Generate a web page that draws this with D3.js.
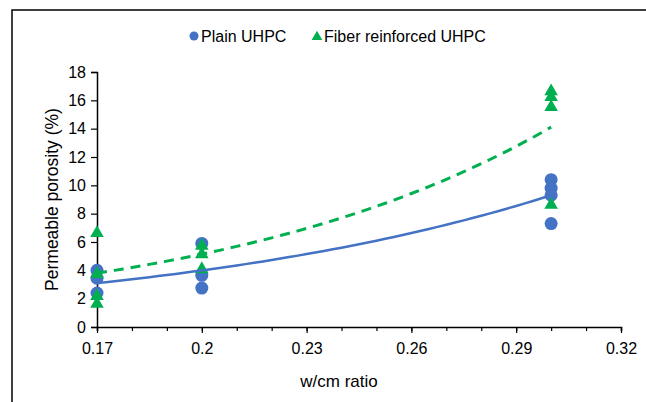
<!DOCTYPE html>
<html>
<head>
<meta charset="utf-8">
<script src="https://cdn.jsdelivr.net/npm/d3@7"></script>
<style>
  body { margin: 0; background: #fff; }
  svg { font-family: "Liberation Sans", Arial, sans-serif; }
</style>
</head>
<body>
<div id="chart"></div>
<script>
// --- DATA ---
const plainX     = [0.17, 0.17, 0.17, 0.2, 0.2, 0.2, 0.3, 0.3, 0.3, 0.3];
const plainY     = [4.0, 3.45, 2.4, 5.9, 3.65, 2.75, 10.4, 9.8, 9.3, 7.3];
const fiberX     = [0.17, 0.17, 0.17, 0.17, 0.2, 0.2, 0.2, 0.3, 0.3, 0.3, 0.3];
const fiberY     = [6.7, 3.8, 2.25, 1.7, 5.8, 5.2, 4.15, 16.7, 16.3, 15.6, 8.7];
// exponential trendlines y = a * exp(b x), as shown in the picture
const plainTrend = [0.737, 8.45];
const fiberTrend = [0.6837, 10.09];
const xTicks     = [0.17, 0.2, 0.23, 0.26, 0.29, 0.32];
const yTicks     = [0, 2, 4, 6, 8, 10, 12, 14, 16, 18];

const W = 646, H = 402;
const blue = '#4472C4', green = '#00B050';
const font = '"Liberation Sans", Arial, sans-serif';

const svg = d3.select('#chart').append('svg')
  .attr('width', W).attr('height', H);

// outer chart frame (runs off the right/bottom edge)
svg.append('rect')
  .attr('x', 12).attr('y', 10)
  .attr('width', 700).attr('height', 500)
  .attr('fill', 'none').attr('stroke', '#000').attr('stroke-width', 1.5);

const x = d3.scaleLinear().domain([0.17, 0.32]).range([97, 621]);
const y = d3.scaleLinear().domain([0, 18]).range([327, 72]);

// --- AXES ---
const gx = svg.append('g').attr('transform', `translate(0,${y(0)})`)
  .call(d3.axisBottom(x).tickValues(d3.range(0.17, 0.3201, 0.01))
    .tickSize(4).tickFormat(''));
gx.select('.domain').attr('stroke-width', 1.5);
gx.selectAll('line').attr('stroke-width', 1.2);

const gx2 = svg.append('g').attr('transform', `translate(0,${y(0)})`)
  .call(d3.axisBottom(x).tickValues(xTicks).tickSize(6).tickPadding(10)
    .tickFormat(d => String(+d.toFixed(2))));
gx2.select('.domain').remove();
gx2.selectAll('line').attr('stroke-width', 1.2);
gx2.selectAll('text').attr('font-size', 16).attr('fill', '#000')
  .attr('font-family', font);

const gy = svg.append('g').attr('transform', `translate(${x(0.17)},0)`)
  .call(d3.axisLeft(y).tickValues(yTicks).tickSize(6).tickPadding(5));
gy.select('.domain').attr('stroke-width', 1.5);
gy.selectAll('line').attr('stroke-width', 1.2);
gy.selectAll('text').attr('font-size', 16).attr('fill', '#000')
  .attr('font-family', font);

// axis titles
svg.append('text')
  .attr('x', 339).attr('y', 387)
  .attr('text-anchor', 'middle').attr('font-size', 17)
  .text('w/cm ratio');

svg.append('text')
  .attr('transform', `translate(58,${y(9)}) rotate(-90)`)
  .attr('text-anchor', 'middle').attr('font-size', 17.5)
  .text('Permeable porosity (%)');

// --- POINTS ---
const plain = plainX.map((d, i) => ({ x: d, y: plainY[i] }));
const fiber = fiberX.map((d, i) => ({ x: d, y: fiberY[i] }));

svg.append('g').selectAll('circle')
  .data(plain)
  .enter().append('circle')
    .attr('cx', d => x(d.x))
    .attr('cy', d => y(d.y))
    .attr('r', 6.5)
    .attr('fill', blue);

const tri = d3.symbol().type(d3.symbolTriangle).size(80);
svg.append('g').selectAll('path')
  .data(fiber)
  .enter().append('path')
    .attr('d', tri)
    .attr('transform', d => `translate(${x(d.x)},${y(d.y) + 1})`)
    .attr('fill', green);

// --- TRENDLINES ---
const trendPts = ([a, b]) => d3.range(0.17, 0.3001, 0.0025).map(v => ({ x: v, y: a * Math.exp(b * v) }));
const line = d3.line().x(d => x(d.x)).y(d => y(d.y));

svg.append('path')
  .attr('d', line(trendPts(plainTrend)))
  .attr('fill', 'none').attr('stroke', blue).attr('stroke-width', 2.5);

svg.append('path')
  .attr('d', line(trendPts(fiberTrend)))
  .attr('fill', 'none').attr('stroke', green).attr('stroke-width', 3)
  .attr('stroke-dasharray', '10,7');

// --- LEGEND ---
const lg = svg.append('g').attr('font-size', 16);
lg.append('circle').attr('cx', 194).attr('cy', 36).attr('r', 4.5).attr('fill', blue);
lg.append('text').attr('x', 201).attr('y', 41.5).text('Plain UHPC');
lg.append('path').attr('d', d3.symbol().type(d3.symbolTriangle).size(50))
  .attr('transform', 'translate(317,37)').attr('fill', green);
lg.append('text').attr('x', 324).attr('y', 41.5).text('Fiber reinforced UHPC');
</script>
</body>
</html>
